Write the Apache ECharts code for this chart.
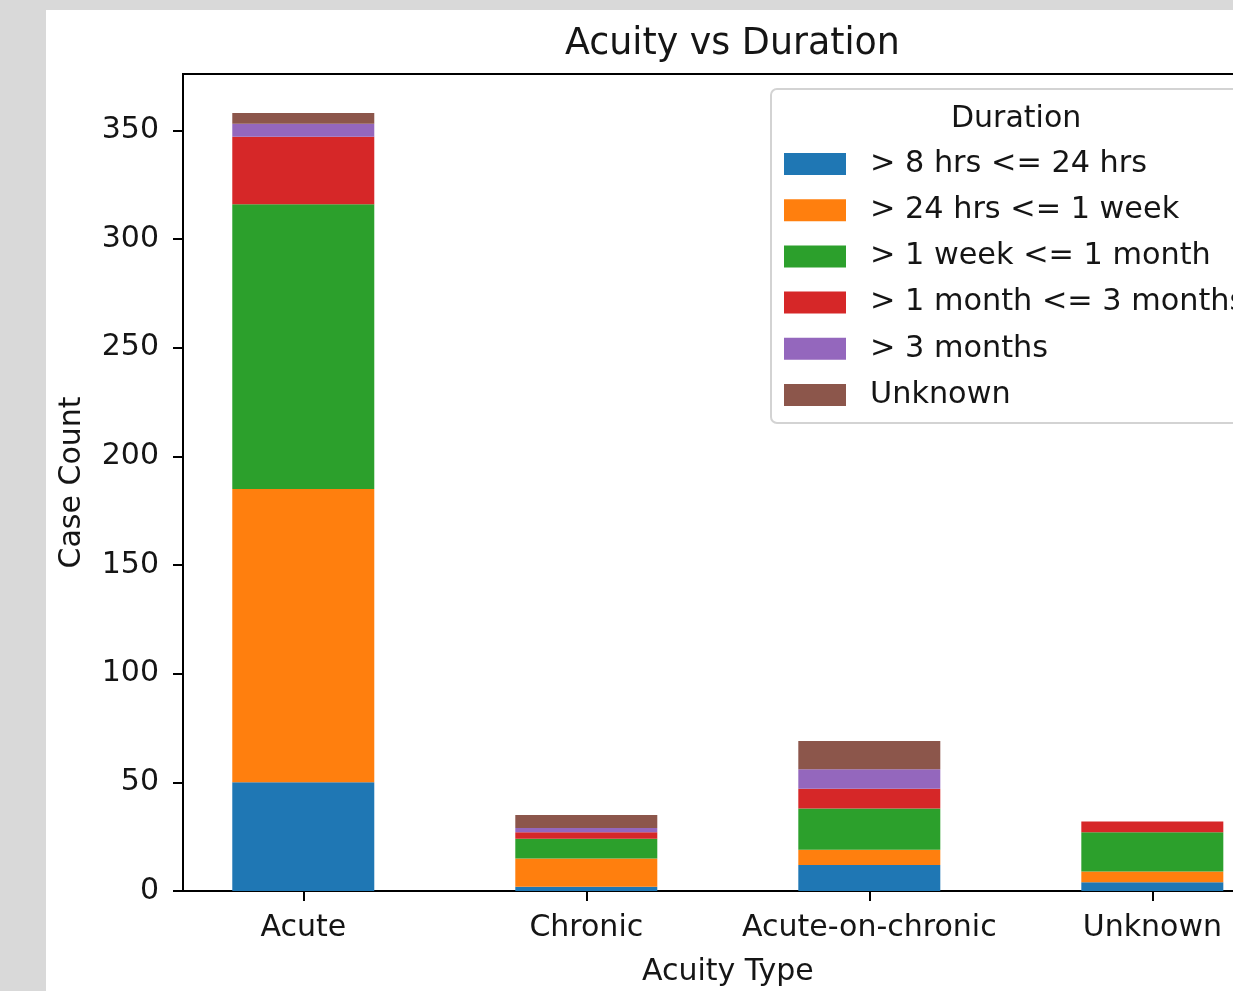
<!DOCTYPE html>
<html>
<head>
<meta charset="utf-8">
<script src="https://cdn.jsdelivr.net/npm/echarts@6/dist/echarts.min.js"></script>
<style>
html,body{margin:0;padding:0;width:1233px;height:991px;overflow:hidden;background:#d9d9d9;}
#paper{position:absolute;left:46px;top:10px;right:0;bottom:0;background:#ffffff;}
#chart{position:absolute;left:0;top:0;width:1233px;height:991px;}
</style>
</head>
<body>
<div id="paper"></div>
<div id="chart"></div>
<script>
const categories = ['Acute', 'Chronic', 'Acute-on-chronic', 'Unknown'];
const durations = ['> 8 hrs <= 24 hrs', '> 24 hrs <= 1 week', '> 1 week <= 1 month', '> 1 month <= 3 months', '> 3 months', 'Unknown'];
const hrs8to24 = [50, 2, 12, 4];
const hrs24toWeek = [135, 13, 7, 5];
const weekToMonth = [131, 9, 19, 18];
const monthTo3Months = [31, 3, 9, 5];
const over3Months = [6, 2, 9, 0];
const unknownDuration = [5, 6, 13, 0];
const yTicks = [0, 50, 100, 150, 200, 250, 300, 350];
const colors = ['#1f77b4', '#ff7f0e', '#2ca02c', '#d62728', '#9467bd', '#8c564b'];

const seriesValues = [hrs8to24, hrs24toWeek, weekToMonth, monthTo3Months, over3Months, unknownDuration];
const catPositions = categories.map((c, i) => i);
const FONT = 'DejaVu Sans';
const TXT = '#151515';

const chart = echarts.init(document.getElementById('chart'), null, {renderer: 'canvas'});
chart.setOption({
  backgroundColor: 'transparent',
  animation: false,
  color: colors,
  title: [
    {text: 'Acuity vs Duration', left: 560, top: 22,
     textStyle: {fontFamily: FONT, fontSize: 36.4, fontWeight: 'normal', color: TXT}},
    {text: 'Duration', left: 946, top: 99,
     textStyle: {fontFamily: FONT, fontSize: 30, fontWeight: 'normal', color: TXT}}
  ],
  legend: {
    data: durations,
    orient: 'vertical',
    left: 771, top: 89,
    padding: [60, 13, 13, 13],
    itemWidth: 62, itemHeight: 22, itemGap: 16.2,
    icon: 'rect',
    selectedMode: false,
    backgroundColor: '#ffffff',
    borderColor: '#d3d3d3', borderWidth: 2, borderRadius: 6,
    textStyle: {fontFamily: FONT, fontSize: 30.3, color: TXT, lineHeight: 30, padding: [0, 0, 0, 19]}
  },
  grid: {left: 183, top: 74, width: 1089.6, height: 817, show: true,
         outerBoundsMode: 'none', containLabel: false,
         borderColor: '#000', borderWidth: 2, backgroundColor: 'transparent'},
  xAxis: {
    type: 'value', min: -0.425, max: 3.425,
    name: 'Acuity Type', nameLocation: 'middle', nameGap: 66,
    nameTextStyle: {fontFamily: FONT, fontSize: 30, color: TXT},
    axisLine: {show: false, onZero: false},
    splitLine: {show: false},
    axisTick: {show: true, length: 10, lineStyle: {color: '#000', width: 2}, customValues: catPositions},
    axisLabel: {customValues: catPositions, margin: 22, fontFamily: FONT, fontSize: 30, color: TXT,
                formatter: v => categories[Math.round(v)]}
  },
  yAxis: {
    type: 'value', min: 0, max: 375.9, interval: 50,
    name: 'Case Count', nameLocation: 'middle', nameGap: 96,
    nameTextStyle: {fontFamily: FONT, fontSize: 30, color: TXT},
    axisLine: {show: false, onZero: false},
    splitLine: {show: false},
    axisTick: {show: true, length: 10, lineStyle: {color: '#000', width: 2}, customValues: yTicks},
    axisLabel: {customValues: yTicks, margin: 24, fontFamily: FONT, fontSize: 30, color: TXT,
                verticalAlign: 'middle', padding: [7, 0, 0, 0]}
  },
  series: durations.map((name, k) => ({
    name: name,
    type: 'bar',
    stack: 'total',
    barWidth: 142,
    itemStyle: {color: colors[k]},
    encode: {x: 1, y: 0},
    data: seriesValues[k].map((v, i) => [v, catPositions[i]])
  }))
});
</script>
</body>
</html>
